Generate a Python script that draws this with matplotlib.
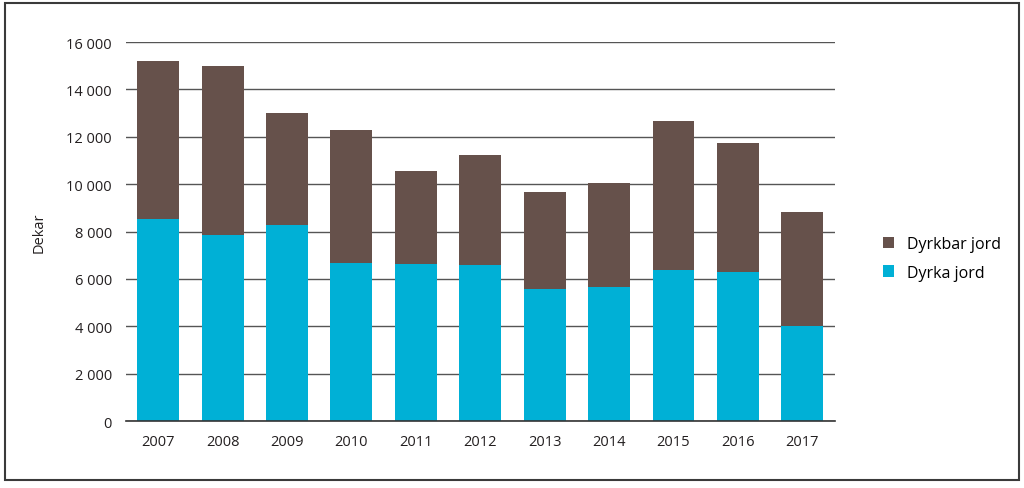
import numpy as np
import matplotlib.pyplot as plt
from matplotlib.patches import Rectangle

plt.rcParams['font.family'] = ['Open Sans', 'DejaVu Sans']

years = ['2007', '2008', '2009', '2010', '2011', '2012', '2013', '2014', '2015', '2016', '2017']
dyrka = [8520, 7850, 8270, 6680, 6630, 6580, 5580, 5660, 6360, 6300, 4000]
dyrkbar = [6680, 7130, 4730, 5600, 3920, 4650, 4090, 4390, 6300, 5430, 4820]
yticks = [0, 2000, 4000, 6000, 8000, 10000, 12000, 14000, 16000]

c_dyrka = '#00B0D6'
c_dyrkbar = '#66514B'

fig = plt.figure(figsize=(10.24, 4.89), dpi=100)
ax = fig.add_axes([0.123, 0.137, 0.692, 0.775])

x = np.arange(len(years))
ax.bar(x, dyrka, width=0.65, color=c_dyrka, label='Dyrka jord', zorder=3)
ax.bar(x, dyrkbar, width=0.65, bottom=dyrka, color=c_dyrkbar, label='Dyrkbar jord', zorder=3)

ax.set_xlim(-0.5, len(years) - 0.5)
ax.set_ylim(0, 16000)
ax.set_yticks(yticks)
ax.set_yticklabels([f'{v:,}'.replace(',', ' ') for v in yticks])
ax.set_xticks(x)
ax.set_xticklabels(years)
ax.tick_params(length=0, labelsize=10.5, colors='#231F20')
ax.tick_params(axis='x', pad=9)
ax.tick_params(axis='y', pad=10)
ax.yaxis.grid(True, color='#555555', linewidth=1.0, zorder=0)
ax.set_axisbelow(True)

for s in ['left', 'right', 'top']:
    ax.spines[s].set_visible(False)
ax.spines['bottom'].set_color('#333333')
ax.spines['bottom'].set_linewidth(1.2)
ax.spines['bottom'].set_zorder(4)

ax.set_ylabel('Dekar', fontsize=10.5, color='#231F20', labelpad=14)

handles, labels = ax.get_legend_handles_labels()
fig.legend(handles[::-1], labels[::-1], loc='center left', bbox_to_anchor=(0.848, 0.47),
           frameon=False, fontsize=11.5, handlelength=0.7, handleheight=0.7,
           handletextpad=0.8, labelspacing=0.8)

fig.patches.append(Rectangle((5 / 1024, 8 / 489), 1014 / 1024, 477 / 489,
                             transform=fig.transFigure, fill=False,
                             edgecolor='#3A3A3A', linewidth=1.5))

fig.savefig('out.png', dpi=100)
